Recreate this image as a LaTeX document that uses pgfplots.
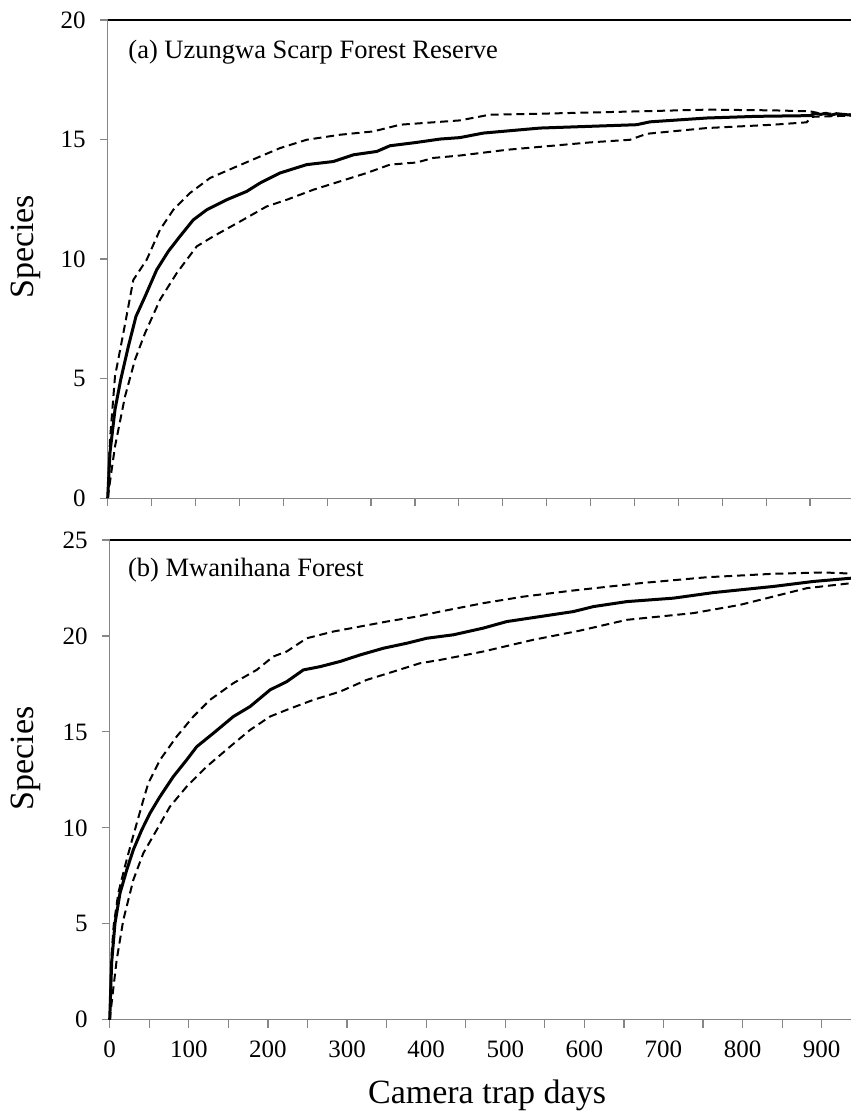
\documentclass[border=0pt]{standalone}
\usepackage{pgfplots}
\pgfplotsset{compat=1.18}
\usepackage{fontspec}
\setmainfont{Liberation Serif}
\definecolor{axgray}{RGB}{134,134,134}
\pgfplotsset{
  panel/.style={
    scale only axis,
    anchor=north west,
    axis x line*=bottom,
    axis y line*=left,
    x axis line style={-},
    y axis line style={-},
    axis line style={draw=axgray, line width=0.6pt},
    every tick/.style={draw=axgray, line width=0.6pt},
    tick align=outside,
    major tick length=4pt,
    minor tick length=4pt,
    xmin=0, ymin=0,
    xtick={0,100,...,900},
    minor x tick num=1,
    /pgf/number format/assume math mode=true,
    ticklabel style={font=\fontsize{12.5}{15}\selectfont},
    yticklabel style={xshift=-3.5pt},
    xticklabel style={yshift=-3pt},
    label style={font=\fontsize{17}{20}\selectfont},
    clip=false,
    after end axis/.code={\draw[black, line width=0.6pt] (rel axis cs:0,1) -- (rel axis cs:1,1);},
  },
  mean/.style={black, line width=1.5pt, line join=round},
  ci/.style={black, line width=1pt, dash pattern=on 4pt off 2.4pt},
}
\begin{document}
\begin{tikzpicture}
\path[use as bounding box] (0,0) rectangle (425.5pt,-557.5pt);
% ---------------- top panel
\begin{axis}[panel,
  at={(53.85pt,-10pt)},
  width=371.65pt, height=239.05pt,
  xmax=846.6, ymax=20,
  ytick={0,5,10,15,20},
  xticklabels={},
  ylabel={Species},
  ylabel style={at={(axis description cs:-0.110,0.5256)}, anchor=center},
]
\addplot[mean] coordinates {
(0,0) (2.6,1.9) (8.3,3.7) (14.8,4.95) (23.5,6.34) (32.2,7.6) (42.5,8.43) (55.8,9.55) (69,10.32) (82.3,10.95) (97.5,11.64) (112.8,12.06) (135.5,12.48) (158.3,12.83) (173.5,13.18) (196.2,13.6) (226.6,13.95) (257,14.08) (279.7,14.36) (306.4,14.5) (321.5,14.74) (352,14.88) (378.5,15.02) (401,15.08) (427.8,15.27) (492.4,15.48) (602.5,15.62) (617.7,15.74) (682.2,15.9) (739.2,15.97) (800,16.0) (806,16.1) (812,16.05) (818,16.1) (824,16.02) (830,16.08) (846.6,16.02)
};
\addplot[ci] coordinates {
(0,0) (2.6,2.44) (8.3,5.09) (17.8,6.9) (29.2,9.13) (44.4,9.97) (59.6,11.23) (74.7,12.06) (93.7,12.76) (116.5,13.39) (143,13.81) (169.7,14.23) (196.2,14.64) (226.6,14.99) (264.6,15.2) (302.5,15.34) (333,15.62) (370.8,15.72) (401,15.8) (435.4,16.04) (492.4,16.08) (606,16.18) (682,16.25) (758,16.22) (800,16.18) (810,16.1) (846.6,16.05)
};
\addplot[ci] coordinates {
(0,0) (8.3,2.16) (19.7,4.25) (31.1,5.79) (42.5,6.9) (59.6,8.3) (78.6,9.41) (101.4,10.53) (120.3,10.95) (150.7,11.57) (181,12.2) (203.9,12.48) (234.2,12.9) (264.6,13.25) (295,13.6) (321.5,13.95) (352,14.04) (370.8,14.23) (401,14.33) (454.4,14.57) (549.3,14.88) (594.9,14.99) (613.9,15.24) (682.2,15.48) (758,15.62) (796,15.72) (802,15.95) (846.6,16.0)
};
\node[anchor=base west, inner sep=0pt, font=\fontsize{13.25}{16}\selectfont] at (axis description cs:0.0274,0.9205) {(a) Uzungwa Scarp Forest Reserve};
\end{axis}
% ---------------- bottom panel
\begin{axis}[panel,
  at={(54.85pt,-270pt)},
  width=370.65pt, height=239.85pt,
  xmax=937, ymax=25,
  ytick={0,5,10,15,20,25},
  ylabel={Species},
  ylabel style={at={(axis description cs:-0.113,0.545)}, anchor=center},
  xlabel={Camera trap days},
  xlabel style={at={(axis description cs:0.509,-0.1737)}, anchor=base},
]
\addplot[mean] coordinates {
(0,0) (2.5,3.0) (6.7,5.03) (13,6.59) (21.5,7.8) (29.8,8.85) (40.5,9.89) (50.9,10.76) (63.6,11.63) (80.4,12.67) (97.3,13.54) (110,14.23) (131,14.93) (156.3,15.8) (177.4,16.32) (202.7,17.19) (223.8,17.62) (244.8,18.23) (265.9,18.4) (291.2,18.67) (316.4,19.01) (345.9,19.36) (375.5,19.62) (400.8,19.88) (434.4,20.06) (472.3,20.41) (501.9,20.75) (544,21.01) (586,21.27) (611.4,21.53) (653.6,21.79) (712.5,21.97) (763.1,22.26) (838.9,22.58) (889.5,22.84) (937,23.01)
};
\addplot[ci] coordinates {
(0,0) (2,3.2) (5,4.9) (10.9,6.6) (19.3,8.0) (27.8,9.3) (42.5,11.45) (48.8,12.33) (63.6,13.54) (84.7,14.76) (105.7,15.8) (126.8,16.67) (156.3,17.54) (185.8,18.23) (206.8,18.93) (223.8,19.19) (249,19.88) (282.7,20.23) (316.4,20.49) (350.2,20.75) (388.1,21.01) (417.6,21.27) (472.3,21.71) (522.9,22.05) (586.1,22.37) (670.4,22.75) (754.7,23.06) (838.9,23.24) (902.1,23.31) (937,23.25)
};
\addplot[ci] coordinates {
(0,0) (8.8,3.11) (17.2,5.2) (29.8,7.28) (42.5,8.68) (59.4,9.89) (76.2,11.11) (97.3,12.15) (122.6,13.19) (152.1,14.23) (177.4,15.1) (202.7,15.8) (223.8,16.15) (257.4,16.67) (291.2,17.1) (324.9,17.71) (358.5,18.14) (392.3,18.58) (417.6,18.75) (472.3,19.19) (535.5,19.8) (594.6,20.28) (653.6,20.84) (737.8,21.19) (796.8,21.62) (881.2,22.49) (937,22.75)
};
\node[anchor=base west, inner sep=0pt, font=\fontsize{13.25}{16}\selectfont] at (axis description cs:0.0243,0.9235) {(b) Mwanihana Forest};
\end{axis}
\end{tikzpicture}
\end{document}
